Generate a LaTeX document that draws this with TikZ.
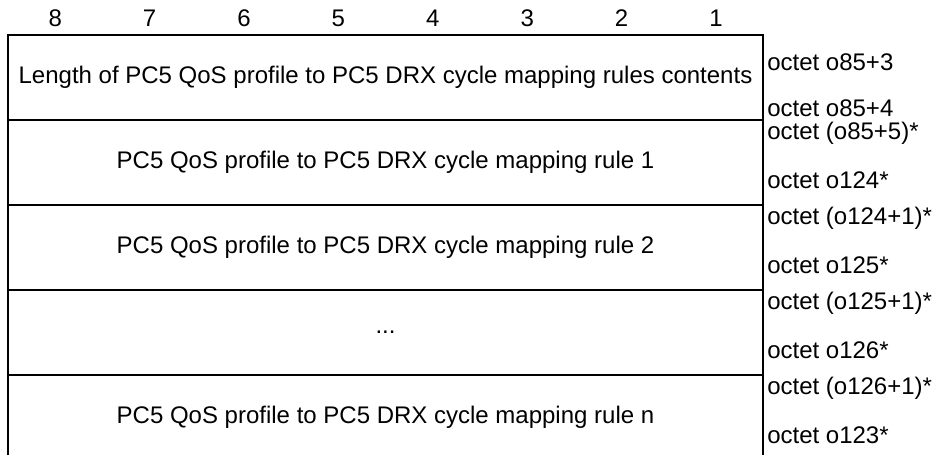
\documentclass[tikz,border=0pt]{standalone}
\usepackage{fontspec}
\setmainfont{Liberation Sans}
\usepackage{tikz}

\begin{document}
\begin{tikzpicture}[x=0.75pt,y=0.75pt,yscale=-1,xscale=1]
	\useasboundingbox (0,0) rectangle (932,455);
	\tikzset{cell/.style={font=\fontsize{18}{21}\selectfont, inner sep=0pt}, octet/.style={cell, anchor=base west}}
	
	%Bit numbers
	\foreach \b [count=\i from 0] in {8,7,6,5,4,3,2,1}
		\node[cell] (bit\b) at (55.2+94.4*\i,18) {\b};
	
	%Shape: Frame
	\draw [line width=2pt] (8,455) -- (8,35) -- (763,35) -- (763,455) ;
	%Straight Lines
	\foreach \y in {120,205,290,375}
		\draw [line width=2pt] (8,\y) -- (763,\y) ;
	
	%Row contents
	\node[cell] (len) at (385.5,77.5) {Length of PC5 QoS profile to PC5 DRX cycle mapping rules contents};
	\node[cell] (rule1) at (385.5,162.5) {PC5 QoS profile to PC5 DRX cycle mapping rule 1};
	\node[cell] (rule2) at (385.5,247.5) {PC5 QoS profile to PC5 DRX cycle mapping rule 2};
	\node[cell] (dots) at (385.5,332.5) {...};
	\node[cell] (rulen) at (385.5,417.5) {PC5 QoS profile to PC5 DRX cycle mapping rule n};
	
	%Octet labels
	\node[octet] (o1a) at (767,70) {octet o85+3};
	\node[octet] (o1b) at (767,116) {octet o85+4};
	\node[octet] (o2a) at (767,139) {octet (o85+5)*};
	\node[octet] (o2b) at (767,188) {octet o124*};
	\node[octet] (o3a) at (767,224) {octet (o124+1)*};
	\node[octet] (o3b) at (767,273) {octet o125*};
	\node[octet] (o4a) at (767,309) {octet (o125+1)*};
	\node[octet] (o4b) at (767,358) {octet o126*};
	\node[octet] (o5a) at (767,394) {octet (o126+1)*};
	\node[octet] (o5b) at (767,443) {octet o123*};
	
\end{tikzpicture}
\end{document}
